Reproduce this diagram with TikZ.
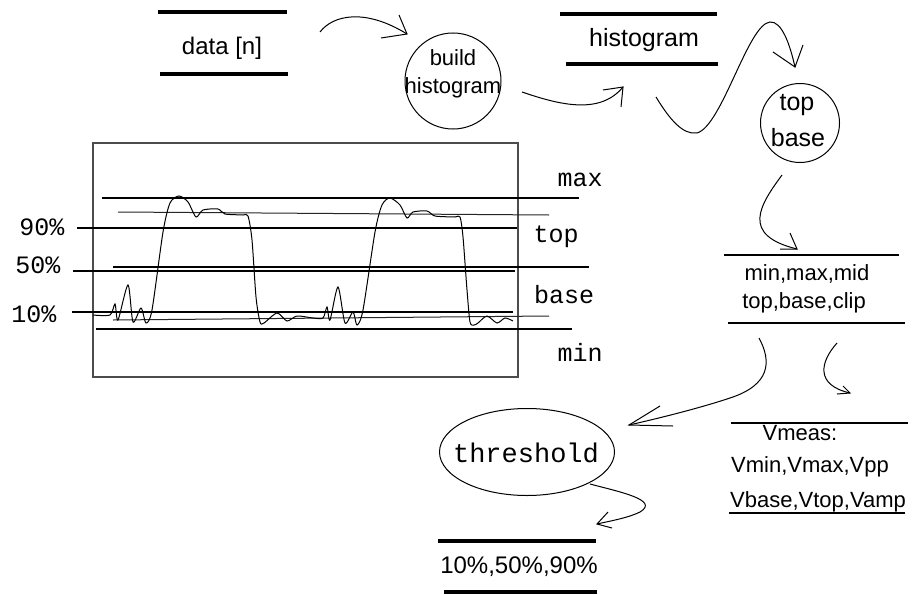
\documentclass[tikz,border=0pt]{standalone}
\usepackage{fontspec}
\setmainfont{Liberation Sans}
\newfontfamily\monof{Liberation Mono}
\usetikzlibrary{shapes.geometric}
\begin{document}
\begin{tikzpicture}[x=1pt,y=-1pt,
  txt/.style={inner sep=0pt,anchor=base,font=\fontsize{22}{26}\selectfont},
  bigtxt/.style={inner sep=0pt,anchor=base,font=\fontsize{25}{30}\selectfont},
  mono/.style={inner sep=0pt,anchor=base,font=\monof\fontsize{25}{30}\selectfont},
  thickbar/.style={line width=3.8pt},
  thinbar/.style={line width=1.8pt},
  level/.style={line width=2.5pt},
  est/.style={line width=1pt,black!85},
  curve/.style={line width=1pt},
  bubble/.style={draw,line width=1pt,circle,inner sep=0pt}]
\useasboundingbox (0,0) rectangle (917,594);
\fill[white] (0,0) rectangle (917,594);

% ---- data [n]
\node[txt,font=\fontsize{24}{28}\selectfont] (data) at (222,55) {data [n]};
\draw[thickbar] (158,12) -- (287,12);
\draw[thickbar] (160,74) -- (288,74);

% ---- build histogram
\node[bubble,minimum size=96pt] (bh) at (453,81) {};
\node[txt] (bhA) at (453,65) {build};
\node[txt] (bhB) at (453,93) {histogram};

% ---- histogram store
\node[bigtxt] (hist) at (644,47) {histogram};
\draw[thickbar] (560,14) -- (717,14);
\draw[thickbar] (566,64) -- (718,64);

% ---- top base
\node[bubble,minimum size=79pt] (tb) at (800,123) {};
\node[bigtxt] (tbA) at (797,110) {top};
\node[bigtxt] (tbB) at (798,146) {base};

% ---- min,max,mid store
\node[txt] (mm1) at (807,280) {min,max,mid};
\node[txt] (mm2) at (804,308) {top,base,clip};
\draw[thinbar] (724,255) -- (899,255);
\draw[thinbar] (728,323) -- (905,323);

% ---- Vmeas store
\node[txt] (vm1) at (800,440) {Vmeas:};
\node[txt] (vm2) at (810,472) {Vmin,Vmax,Vpp};
\node[txt] (vm3) at (818,507) {Vbase,Vtop,Vamp};
\draw[thinbar] (731,423) -- (908,423);
\draw[thinbar] (729,513) -- (905,513);

% ---- threshold
\node[draw,line width=1pt,ellipse,minimum width=175pt,minimum height=87pt,inner sep=0pt] (thr) at (527,452) {};
\node[mono,font=\monof\fontsize{27}{30}\selectfont] (thrT) at (526,462) {threshold};

% ---- 10%,50%,90% store
\node[bigtxt,font=\fontsize{24}{28}\selectfont] (pct) at (519,573) {10\%,50\%,90\%};
\draw[thickbar] (438,541) -- (596,541);
\draw[thickbar] (444,592) -- (597,592);

% ---- scope picture
\draw[line width=1.5pt,black!70] (93,143) rectangle (518,377);
\draw[level] (102,198) -- (579,198);
\draw[est] (118,212) -- (549,215);
\draw[level] (77,228) -- (517,228);
\draw[level] (113,267) -- (589,267);
\draw[level] (73,271) -- (515,271);
\draw[level] (72,312) -- (513,312);
\draw[est] (113,320) -- (549,316);
\draw[level] (96,329) -- (572,329);
\draw[line width=1pt] plot[smooth,tension=0.45] coordinates {
 (93,315) (110,315) (115,304) (118,320) (128,285) (133,322) (141,308) (146,323)
 (152,310) (163,232) (170,203) (179,196) (188,202) (196,217) (203,210) (218,209)
 (225,214) (243,215) (248,216) (252,240) (256,297) (260,322) (264,323)
 (277,313) (287,321) (297,316) (313,318) (323,318) (327,307) (330,320)
 (338,287) (345,323) (353,312) (357,325) (363,310) (375,232) (382,205)
 (390,198) (400,205) (407,218) (413,212) (427,211) (435,216) (455,217)
 (460,217) (463,237) (467,290) (470,322) (474,325) (478,323) (487,316)
 (497,323) (505,318) (513,321)};

\node[mono] (lmax) at (580,186) {max};
\node[mono] (ltop) at (556,242) {top};
\node[mono] (lbase) at (564,303) {base};
\node[mono] (lmin) at (580,361) {min};
\node[mono] (l90) at (42,235) {90\%};
\node[mono] (l50) at (38,273) {50\%};
\node[mono] (l10) at (34,322) {10\%};

% ---- connectors (hand-drawn style)
\coordinate (a1s) at (320,32); \coordinate (a1t) at (407,34);
\draw[curve] (a1s) .. controls (333,15) and (365,8) .. (a1t);
\draw[curve] (399,15) -- (a1t) -- (381,38);

\coordinate (a2s) at (522,92); \coordinate (a2t) at (623,87);
\draw[curve] (a2s) .. controls (560,105) and (600,115) .. (a2t);
\draw[curve] (603,90) -- (a2t) -- (621,107);

\coordinate (a3s) at (656,97); \coordinate (a3t) at (795,67);
\draw[curve] (a3s) .. controls (670,120) and (683,135) .. (697,133)
  .. controls (722,126) and (748,24) .. (770,22)
  .. controls (782,21) and (790,45) .. (a3t);
\draw[curve] (773,52) -- (a3t) -- (803,45);

\coordinate (a4s) at (782,175); \coordinate (a4t) at (797,249);
\draw[curve] (a4s) .. controls (760,205) and (740,235) .. (a4t);
\draw[curve] (790,233) -- (a4t) -- (780,249);

\coordinate (a5s) at (759,338); \coordinate (a5t) at (629,425);
\draw[curve] (a5s) .. controls (772,362) and (770,385) .. (730,398)
  .. controls (700,408) and (660,418) .. (a5t);
\draw[curve] (660,406) -- (a5t) -- (673,426);

\coordinate (a6s) at (837,343); \coordinate (a6t) at (850,393);
\draw[curve] (a6s) .. controls (820,362) and (815,385) .. (a6t);
\draw[curve] (843,386) -- (a6t) -- (837,394);

\coordinate (a7s) at (590,484); \coordinate (a7t) at (597,524);
\draw[curve] (a7s) .. controls (620,492) and (660,500) .. (640,512)
  .. controls (628,518) and (610,521) .. (a7t);
\draw[curve] (608,512) -- (a7t) -- (612,528);
\end{tikzpicture}
\end{document}
